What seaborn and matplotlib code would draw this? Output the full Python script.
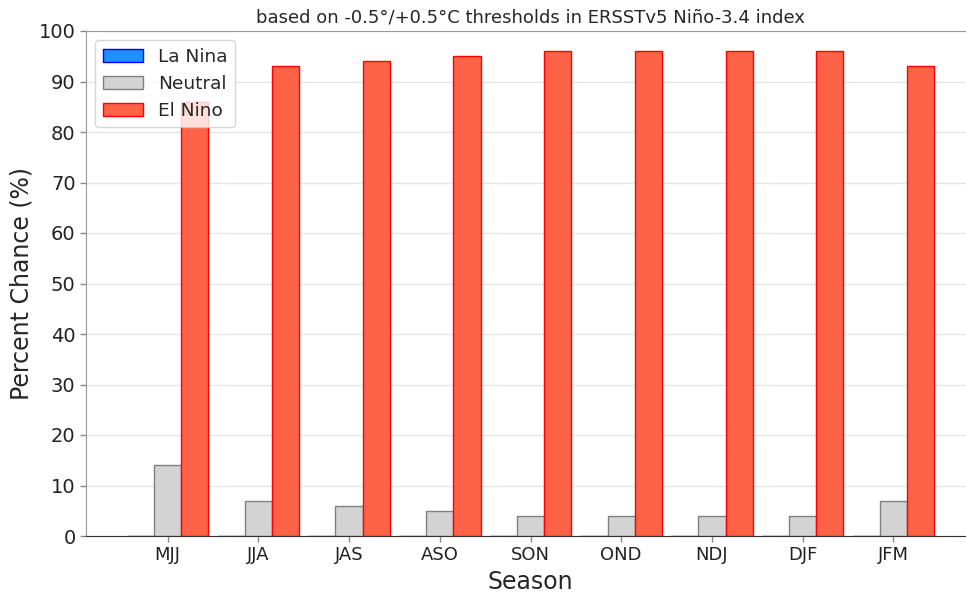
import pandas as pd
import matplotlib.pyplot as plt
import seaborn as sns
from matplotlib.patches import Patch

seasons = ["MJJ", "JJA", "JAS", "ASO", "SON", "OND", "NDJ", "DJF", "JFM"]
la_nina = [0, 0, 0, 0, 0, 0, 0, 0, 0]
neutral = [14, 7, 6, 5, 4, 4, 4, 4, 7]
el_nino = [86, 93, 94, 95, 96, 96, 96, 96, 93]

categories = ["La Nina", "Neutral", "El Nino"]
face = {"La Nina": "#1e90ff", "Neutral": "#d3d3d3", "El Nino": "#ff6347"}
edge = {"La Nina": "blue", "Neutral": "gray", "El Nino": "red"}

df = pd.DataFrame({
    "season": seasons * 3,
    "value": la_nina + neutral + el_nino,
    "category": ["La Nina"] * 9 + ["Neutral"] * 9 + ["El Nino"] * 9,
})

sns.set_style("white")
plt.rcParams["font.family"] = ["DejaVu Sans"]

fig = plt.figure(figsize=(9.66, 5.95), dpi=100)
ax = fig.add_axes([86 / 966, 1 - 536 / 595, (975 - 86) / 966, (536 - 31) / 595])

sns.barplot(data=df, x="season", y="value", hue="category", hue_order=categories,
            palette=face, width=0.9, ax=ax, legend=False, saturation=1)

for cont, cat in zip(ax.containers, categories):
    for bar in cont:
        bar.set_edgecolor(edge[cat])
        bar.set_linewidth(1)

ax.set_xlim(-0.9, 8.9)
ax.set_ylim(0, 100)
ax.set_yticks(range(0, 101, 10))
ax.yaxis.grid(True, color="#e6e6e6", linewidth=1)
ax.set_axisbelow(True)

for s in ["left", "top"]:
    ax.spines[s].set_color("#999999")
ax.spines["bottom"].set_color("#333333")
ax.spines["right"].set_visible(False)
ax.tick_params(axis="both", bottom=True, left=True, labelsize=13, length=4,
               width=1, color="#888888", labelcolor="#222222")
ax.tick_params(axis="y", labelsize=14)

ax.set_xlabel("Season", fontsize=17)
ax.set_ylabel("Percent Chance (%)", fontsize=17)
ax.set_title("based on -0.5°/+0.5°C thresholds in ERSSTv5 Niño-3.4 index", fontsize=13)

handles = [Patch(facecolor=face[c], edgecolor=edge[c], label=c) for c in categories]
ax.legend(handles=handles, loc="upper left", fontsize=13.3, frameon=True,
          handlelength=2.2, borderaxespad=0.5)

fig.savefig("out.png", dpi=100)
